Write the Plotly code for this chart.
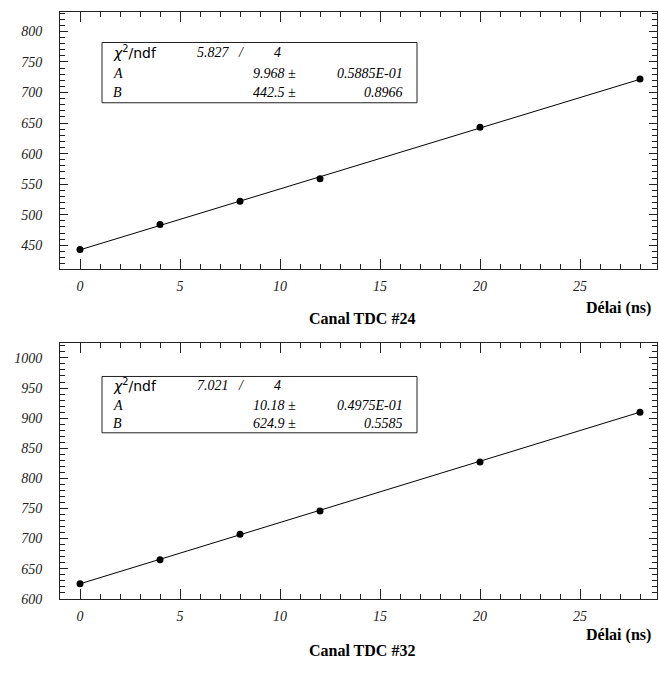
import plotly.graph_objects as go

W, H = 659, 673

# ---- data ----
delay_ns = [0, 4, 8, 12, 20, 28]
tdc24_channel = [443, 484, 522, 559, 643, 722]
tdc32_channel = [625, 665, 707, 746, 827, 910]

fit24 = {"chi2": "5.827", "ndf": "4", "A": "9.968", "dA": "0.5885E-01", "B": "442.5", "dB": "0.8966"}
fit32 = {"chi2": "7.021", "ndf": "4", "A": "10.18", "dA": "0.4975E-01", "B": "624.9", "dB": "0.5585"}
fit24_A, fit24_B = 9.968, 442.5
fit32_A, fit32_B = 10.18, 624.9

panel_titles = ["Canal TDC #24", "Canal TDC #32"]
x_title = "Délai (ns)"


def px(x):
    return x / W


def py(y):
    return 1 - y / H


fig = go.Figure()

SERIF = "Liberation Serif"

panels = [
    dict(xa="x", ya="y", top=12, bot=272, yr=[411.5, 832], data=tdc24_channel,
         A=fit24_A, B=fit24_B, fit=fit24, box=(102, 417, 43, 104), rows=(53, 74, 94),
         title=panel_titles[0], xt_y=312, ct_y=322),
    dict(xa="x2", ya="y2", top=347, bot=606, yr=[600, 1025], data=tdc32_channel,
         A=fit32_A, B=fit32_B, fit=fit32, box=(102, 417, 381, 438), rows=(390, 410, 429),
         title=panel_titles[1], xt_y=643, ct_y=658),
]

shapes = []
annotations = []
for i, p in enumerate(panels):
    fx = [delay_ns[0], delay_ns[-1]]
    fy = [p["A"] * v + p["B"] for v in fx]
    fig.add_trace(go.Scatter(x=fx, y=fy, mode="lines", line=dict(color="black", width=1),
                             xaxis=p["xa"], yaxis=p["ya"], showlegend=False, hoverinfo="skip"))
    fig.add_trace(go.Scatter(x=delay_ns, y=p["data"], mode="markers",
                             marker=dict(color="black", size=7, symbol="circle"),
                             xaxis=p["xa"], yaxis=p["ya"], showlegend=False))

    ax_common = dict(showline=True, linecolor="#222", linewidth=1, mirror="ticks",
                     ticks="inside", tickcolor="#222", tickwidth=1, showgrid=False, zeroline=False,
                     tickfont=dict(family=SERIF, size=14, color="#222", style="italic"))
    xname = "xaxis" if i == 0 else "xaxis2"
    yname = "yaxis" if i == 0 else "yaxis2"
    fig.layout[xname] = dict(ax_common, domain=[px(60), px(657)], range=[-1, 28.85],
                             tick0=0, dtick=5, ticklen=10,
                             minor=dict(ticks="inside", ticklen=5, dtick=1, tickcolor="#222"),
                             anchor=p["ya"], ticklabelstandoff=4)
    fig.layout[yname] = dict(ax_common, domain=[py(p["bot"]), py(p["top"])], range=p["yr"],
                             tick0=0, dtick=50, ticklen=8,
                             minor=dict(ticks="inside", ticklen=5, dtick=10, tickcolor="#222"),
                             anchor=p["xa"], ticklabelstandoff=14)

    x0, x1, y0, y1 = p["box"]
    shapes.append(dict(type="rect", xref="paper", yref="paper", x0=px(x0), x1=px(x1),
                       y0=py(y1), y1=py(y0), line=dict(color="#222", width=1), fillcolor="white"))
    f = p["fit"]
    r0, r1, r2 = p["rows"]
    itf = dict(family=SERIF, size=14, color="black", style="italic")

    def ann(text, x, y, xanchor="left", font=itf):
        annotations.append(dict(text=text, x=px(x), y=py(y), xref="paper", yref="paper",
                                xanchor=xanchor, yanchor="middle", showarrow=False, font=font))

    ann("<i>χ</i><sup>2</sup>/ndf", 111, r0, font=dict(family="DejaVu Sans", size=14, color="black"))
    ann(f["chi2"], 195, r0)
    ann("/", 241, r0, "center")
    ann(f["ndf"], 277, r0, "center")
    ann("A", 111, r1)
    ann(f["A"] + " ±", 298, r1, "right")
    ann(f["dA"], 405, r1, "right")
    ann("B", 111, r2)
    ann(f["B"] + " ±", 298, r2, "right")
    ann(f["dB"], 405, r2, "right")

    bf = dict(family=SERIF, size=16, color="black", weight="bold")
    annotations.append(dict(text=x_title, x=px(653), y=py(p["xt_y"]), xref="paper", yref="paper",
                            xanchor="right", yanchor="middle", showarrow=False, font=bf))
    annotations.append(dict(text=p["title"], x=px(362), y=py(p["ct_y"]), xref="paper", yref="paper",
                            xanchor="center", yanchor="middle", showarrow=False, font=bf))

fig.update_layout(width=W, height=H, margin=dict(l=0, r=0, t=0, b=0),
                  paper_bgcolor="white", plot_bgcolor="white",
                  shapes=shapes, annotations=annotations, showlegend=False)

fig.write_html("out.html", config={"displayModeBar": False},
               post_script="document.body.style.margin='0';document.body.style.overflow='hidden';")
